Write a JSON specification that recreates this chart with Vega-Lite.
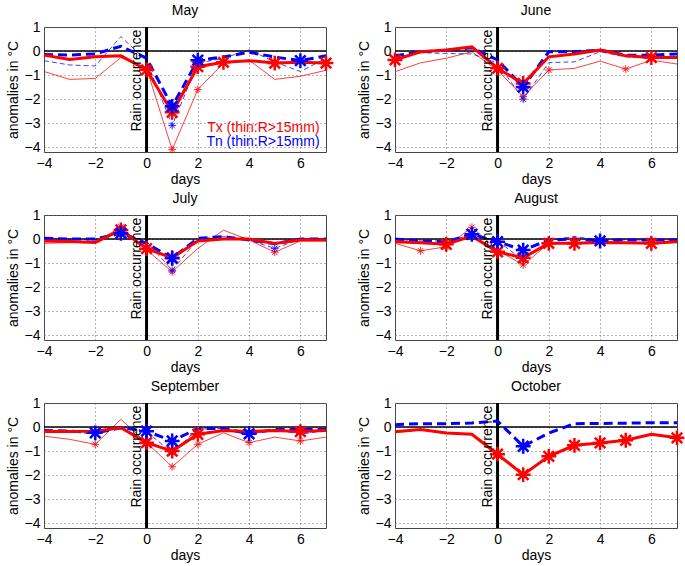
{
  "$schema": "https://vega.github.io/schema/vega-lite/v6.json",
  "background": "white",
  "padding": {"left": 5, "top": 3, "right": 5, "bottom": 3},
  "data": {"values": [
    {"m":"May","s":"A"},{"m":"June","s":"A"},{"m":"July","s":"A"},{"m":"August","s":"A"},{"m":"September","s":"A"},{"m":"October","s":"A"},
    {"m":"May","s":"Tx","d":-4,"v":-0.17},{"m":"May","s":"Tx","d":-3,"v":-0.35},{"m":"May","s":"Tx","d":-2,"v":-0.24},{"m":"May","s":"Tx","d":-1,"v":-0.2},{"m":"May","s":"Tx","d":0,"v":-0.78,"k":1},{"m":"May","s":"Tx","d":1,"v":-2.55,"k":1},{"m":"May","s":"Tx","d":2,"v":-0.65,"k":1},{"m":"May","s":"Tx","d":3,"v":-0.47,"k":1},{"m":"May","s":"Tx","d":4,"v":-0.4},{"m":"May","s":"Tx","d":5,"v":-0.5,"k":1},{"m":"May","s":"Tx","d":6,"v":-0.47},{"m":"May","s":"Tx","d":7,"v":-0.5,"k":1},
    {"m":"May","s":"Tn","d":-4,"v":-0.14},{"m":"May","s":"Tn","d":-3,"v":-0.17},{"m":"May","s":"Tn","d":-2,"v":-0.12},{"m":"May","s":"Tn","d":-1,"v":0.2},{"m":"May","s":"Tn","d":0,"v":-0.3},{"m":"May","s":"Tn","d":1,"v":-2.3,"k":1},{"m":"May","s":"Tn","d":2,"v":-0.38,"k":1},{"m":"May","s":"Tn","d":3,"v":-0.25},{"m":"May","s":"Tn","d":4,"v":-0.05},{"m":"May","s":"Tn","d":5,"v":-0.25},{"m":"May","s":"Tn","d":6,"v":-0.4,"k":1},{"m":"May","s":"Tn","d":7,"v":-0.2},
    {"m":"May","s":"Tx15","d":-4,"v":-0.85},{"m":"May","s":"Tx15","d":-3,"v":-1.18},{"m":"May","s":"Tx15","d":-2,"v":-1.14},{"m":"May","s":"Tx15","d":-1,"v":-0.27},{"m":"May","s":"Tx15","d":0,"v":-0.72},{"m":"May","s":"Tx15","d":1,"v":-4.1,"k":1},{"m":"May","s":"Tx15","d":2,"v":-1.6,"k":1},{"m":"May","s":"Tx15","d":3,"v":-0.5},{"m":"May","s":"Tx15","d":4,"v":-0.38},{"m":"May","s":"Tx15","d":5,"v":-1.18},{"m":"May","s":"Tx15","d":6,"v":-1.05},{"m":"May","s":"Tx15","d":7,"v":-0.8},
    {"m":"May","s":"Tn15","d":-4,"v":-0.4},{"m":"May","s":"Tn15","d":-3,"v":-0.58},{"m":"May","s":"Tn15","d":-2,"v":-0.62},{"m":"May","s":"Tn15","d":-1,"v":0.6},{"m":"May","s":"Tn15","d":0,"v":-0.4},{"m":"May","s":"Tn15","d":1,"v":-3.1,"k":1},{"m":"May","s":"Tn15","d":2,"v":-0.5},{"m":"May","s":"Tn15","d":3,"v":-0.3},{"m":"May","s":"Tn15","d":4,"v":0.05},{"m":"May","s":"Tn15","d":5,"v":-0.45},{"m":"May","s":"Tn15","d":6,"v":-0.85},{"m":"May","s":"Tn15","d":7,"v":-0.3},

    {"m":"June","s":"Tx","d":-4,"v":-0.37,"k":1},{"m":"June","s":"Tx","d":-3,"v":-0.03},{"m":"June","s":"Tx","d":-2,"v":0.04},{"m":"June","s":"Tx","d":-1,"v":0.18},{"m":"June","s":"Tx","d":0,"v":-0.72,"k":1},{"m":"June","s":"Tx","d":1,"v":-1.35,"k":1},{"m":"June","s":"Tx","d":2,"v":-0.24},{"m":"June","s":"Tx","d":3,"v":-0.12},{"m":"June","s":"Tx","d":4,"v":0.04},{"m":"June","s":"Tx","d":5,"v":-0.2},{"m":"June","s":"Tx","d":6,"v":-0.27,"k":1},{"m":"June","s":"Tx","d":7,"v":-0.27},
    {"m":"June","s":"Tn","d":-4,"v":-0.2},{"m":"June","s":"Tn","d":-3,"v":-0.03},{"m":"June","s":"Tn","d":-2,"v":0.03},{"m":"June","s":"Tn","d":-1,"v":0.14},{"m":"June","s":"Tn","d":0,"v":-0.37},{"m":"June","s":"Tn","d":1,"v":-1.5,"k":1},{"m":"June","s":"Tn","d":2,"v":-0.03},{"m":"June","s":"Tn","d":3,"v":-0.03},{"m":"June","s":"Tn","d":4,"v":0.04},{"m":"June","s":"Tn","d":5,"v":-0.17},{"m":"June","s":"Tn","d":6,"v":-0.17},{"m":"June","s":"Tn","d":7,"v":-0.12},
    {"m":"June","s":"Tx15","d":-4,"v":-0.86},{"m":"June","s":"Tx15","d":-3,"v":-0.49},{"m":"June","s":"Tx15","d":-2,"v":-0.3},{"m":"June","s":"Tx15","d":-1,"v":-0.03},{"m":"June","s":"Tx15","d":0,"v":-0.8},{"m":"June","s":"Tx15","d":1,"v":-1.9,"k":1},{"m":"June","s":"Tx15","d":2,"v":-0.79,"k":1},{"m":"June","s":"Tx15","d":3,"v":-0.72},{"m":"June","s":"Tx15","d":4,"v":-0.42},{"m":"June","s":"Tx15","d":5,"v":-0.75,"k":1},{"m":"June","s":"Tx15","d":6,"v":-0.38},{"m":"June","s":"Tx15","d":7,"v":-0.54},
    {"m":"June","s":"Tn15","d":-4,"v":-0.26},{"m":"June","s":"Tn15","d":-3,"v":-0.07},{"m":"June","s":"Tn15","d":-2,"v":-0.1},{"m":"June","s":"Tn15","d":-1,"v":-0.12},{"m":"June","s":"Tn15","d":0,"v":-0.5},{"m":"June","s":"Tn15","d":1,"v":-2.0,"k":1},{"m":"June","s":"Tn15","d":2,"v":-0.48},{"m":"June","s":"Tn15","d":3,"v":-0.45},{"m":"June","s":"Tn15","d":4,"v":-0.03},{"m":"June","s":"Tn15","d":5,"v":-0.24},{"m":"June","s":"Tn15","d":6,"v":-0.3},{"m":"June","s":"Tn15","d":7,"v":-0.24},

    {"m":"July","s":"Tx","d":-4,"v":-0.08},{"m":"July","s":"Tx","d":-3,"v":-0.1},{"m":"July","s":"Tx","d":-2,"v":-0.14},{"m":"July","s":"Tx","d":-1,"v":0.38,"k":1},{"m":"July","s":"Tx","d":0,"v":-0.4,"k":1},{"m":"July","s":"Tx","d":1,"v":-0.78,"k":1},{"m":"July","s":"Tx","d":2,"v":-0.08},{"m":"July","s":"Tx","d":3,"v":0},{"m":"July","s":"Tx","d":4,"v":0},{"m":"July","s":"Tx","d":5,"v":-0.18},{"m":"July","s":"Tx","d":6,"v":-0.04},{"m":"July","s":"Tx","d":7,"v":-0.04},
    {"m":"July","s":"Tn","d":-4,"v":0.03},{"m":"July","s":"Tn","d":-3,"v":0},{"m":"July","s":"Tn","d":-2,"v":0},{"m":"July","s":"Tn","d":-1,"v":0.24,"k":1},{"m":"July","s":"Tn","d":0,"v":-0.18},{"m":"July","s":"Tn","d":1,"v":-0.8,"k":1},{"m":"July","s":"Tn","d":2,"v":0.03},{"m":"July","s":"Tn","d":3,"v":0.1},{"m":"July","s":"Tn","d":4,"v":-0.04},{"m":"July","s":"Tn","d":5,"v":-0.2},{"m":"July","s":"Tn","d":6,"v":0},{"m":"July","s":"Tn","d":7,"v":0},
    {"m":"July","s":"Tx15","d":-4,"v":-0.18},{"m":"July","s":"Tx15","d":-3,"v":-0.15},{"m":"July","s":"Tx15","d":-2,"v":-0.14},{"m":"July","s":"Tx15","d":-1,"v":0.5,"k":1},{"m":"July","s":"Tx15","d":0,"v":-0.45},{"m":"July","s":"Tx15","d":1,"v":-1.36,"k":1},{"m":"July","s":"Tx15","d":2,"v":-0.39},{"m":"July","s":"Tx15","d":3,"v":0.37},{"m":"July","s":"Tx15","d":4,"v":-0.04},{"m":"July","s":"Tx15","d":5,"v":-0.55,"k":1},{"m":"July","s":"Tx15","d":6,"v":-0.08},{"m":"July","s":"Tx15","d":7,"v":-0.08},
    {"m":"July","s":"Tn15","d":-4,"v":0.05},{"m":"July","s":"Tn15","d":-3,"v":0},{"m":"July","s":"Tn15","d":-2,"v":-0.04},{"m":"July","s":"Tn15","d":-1,"v":0.3},{"m":"July","s":"Tn15","d":0,"v":-0.1},{"m":"July","s":"Tn15","d":1,"v":-1.3,"k":1},{"m":"July","s":"Tn15","d":2,"v":0},{"m":"July","s":"Tn15","d":3,"v":0.1},{"m":"July","s":"Tn15","d":4,"v":-0.04},{"m":"July","s":"Tn15","d":5,"v":-0.39,"k":1},{"m":"July","s":"Tn15","d":6,"v":0},{"m":"July","s":"Tn15","d":7,"v":0},

    {"m":"August","s":"Tx","d":-4,"v":-0.11},{"m":"August","s":"Tx","d":-3,"v":-0.15},{"m":"August","s":"Tx","d":-2,"v":-0.22,"k":1},{"m":"August","s":"Tx","d":-1,"v":0.12},{"m":"August","s":"Tx","d":0,"v":-0.53,"k":1},{"m":"August","s":"Tx","d":1,"v":-0.78,"k":1},{"m":"August","s":"Tx","d":2,"v":-0.18,"k":1},{"m":"August","s":"Tx","d":3,"v":-0.18,"k":1},{"m":"August","s":"Tx","d":4,"v":-0.14},{"m":"August","s":"Tx","d":5,"v":-0.15},{"m":"August","s":"Tx","d":6,"v":-0.18,"k":1},{"m":"August","s":"Tx","d":7,"v":-0.11},
    {"m":"August","s":"Tn","d":-4,"v":0},{"m":"August","s":"Tn","d":-3,"v":-0.08},{"m":"August","s":"Tn","d":-2,"v":-0.11},{"m":"August","s":"Tn","d":-1,"v":0.2,"k":1},{"m":"August","s":"Tn","d":0,"v":-0.11,"k":1},{"m":"August","s":"Tn","d":1,"v":-0.46,"k":1},{"m":"August","s":"Tn","d":2,"v":-0.04},{"m":"August","s":"Tn","d":3,"v":0},{"m":"August","s":"Tn","d":4,"v":-0.08,"k":1},{"m":"August","s":"Tn","d":5,"v":-0.04},{"m":"August","s":"Tn","d":6,"v":-0.04},{"m":"August","s":"Tn","d":7,"v":-0.04},
    {"m":"August","s":"Tx15","d":-4,"v":-0.18},{"m":"August","s":"Tx15","d":-3,"v":-0.49,"k":1},{"m":"August","s":"Tx15","d":-2,"v":-0.32,"k":1},{"m":"August","s":"Tx15","d":-1,"v":0.49,"k":1},{"m":"August","s":"Tx15","d":0,"v":-0.46},{"m":"August","s":"Tx15","d":1,"v":-1.08,"k":1},{"m":"August","s":"Tx15","d":2,"v":-0.18},{"m":"August","s":"Tx15","d":3,"v":-0.14},{"m":"August","s":"Tx15","d":4,"v":-0.14},{"m":"August","s":"Tx15","d":5,"v":-0.14},{"m":"August","s":"Tx15","d":6,"v":-0.18},{"m":"August","s":"Tx15","d":7,"v":-0.11},
    {"m":"August","s":"Tn15","d":-4,"v":0},{"m":"August","s":"Tn15","d":-3,"v":-0.08},{"m":"August","s":"Tn15","d":-2,"v":-0.08},{"m":"August","s":"Tn15","d":-1,"v":0.17},{"m":"August","s":"Tn15","d":0,"v":-0.08},{"m":"August","s":"Tn15","d":1,"v":-0.88,"k":1},{"m":"August","s":"Tn15","d":2,"v":-0.04},{"m":"August","s":"Tn15","d":3,"v":0.1},{"m":"August","s":"Tn15","d":4,"v":-0.04},{"m":"August","s":"Tn15","d":5,"v":-0.04},{"m":"August","s":"Tn15","d":6,"v":-0.04},{"m":"August","s":"Tn15","d":7,"v":-0.04},

    {"m":"September","s":"Tx","d":-4,"v":-0.19},{"m":"September","s":"Tx","d":-3,"v":-0.19},{"m":"September","s":"Tx","d":-2,"v":-0.17},{"m":"September","s":"Tx","d":-1,"v":-0.03},{"m":"September","s":"Tx","d":0,"v":-0.65,"k":1},{"m":"September","s":"Tx","d":1,"v":-1.0,"k":1},{"m":"September","s":"Tx","d":2,"v":-0.3,"k":1},{"m":"September","s":"Tx","d":3,"v":-0.14},{"m":"September","s":"Tx","d":4,"v":-0.19},{"m":"September","s":"Tx","d":5,"v":-0.14},{"m":"September","s":"Tx","d":6,"v":-0.19,"k":1},{"m":"September","s":"Tx","d":7,"v":-0.14},
    {"m":"September","s":"Tn","d":-4,"v":-0.14},{"m":"September","s":"Tn","d":-3,"v":-0.17},{"m":"September","s":"Tn","d":-2,"v":-0.24,"k":1},{"m":"September","s":"Tn","d":-1,"v":-0.03},{"m":"September","s":"Tn","d":0,"v":-0.17,"k":1},{"m":"September","s":"Tn","d":1,"v":-0.58,"k":1},{"m":"September","s":"Tn","d":2,"v":-0.06},{"m":"September","s":"Tn","d":3,"v":-0.06},{"m":"September","s":"Tn","d":4,"v":-0.28,"k":1},{"m":"September","s":"Tn","d":5,"v":-0.1},{"m":"September","s":"Tn","d":6,"v":-0.1},{"m":"September","s":"Tn","d":7,"v":-0.1},
    {"m":"September","s":"Tx15","d":-4,"v":-0.38},{"m":"September","s":"Tx15","d":-3,"v":-0.51},{"m":"September","s":"Tx15","d":-2,"v":-0.72,"k":1},{"m":"September","s":"Tx15","d":-1,"v":0.32},{"m":"September","s":"Tx15","d":0,"v":-0.65},{"m":"September","s":"Tx15","d":1,"v":-1.65,"k":1},{"m":"September","s":"Tx15","d":2,"v":-0.72,"k":1},{"m":"September","s":"Tx15","d":3,"v":-0.24},{"m":"September","s":"Tx15","d":4,"v":-0.65,"k":1},{"m":"September","s":"Tx15","d":5,"v":-0.42},{"m":"September","s":"Tx15","d":6,"v":-0.58,"k":1},{"m":"September","s":"Tx15","d":7,"v":-0.42},
    {"m":"September","s":"Tn15","d":-4,"v":-0.14},{"m":"September","s":"Tn15","d":-3,"v":-0.17},{"m":"September","s":"Tn15","d":-2,"v":-0.3},{"m":"September","s":"Tn15","d":-1,"v":0},{"m":"September","s":"Tn15","d":0,"v":-0.19},{"m":"September","s":"Tn15","d":1,"v":-1.07,"k":1},{"m":"September","s":"Tn15","d":2,"v":-0.08},{"m":"September","s":"Tn15","d":3,"v":-0.06},{"m":"September","s":"Tn15","d":4,"v":-0.3},{"m":"September","s":"Tn15","d":5,"v":-0.1},{"m":"September","s":"Tn15","d":6,"v":-0.3},{"m":"September","s":"Tn15","d":7,"v":-0.14},

    {"m":"October","s":"Tx","d":-4,"v":-0.2},{"m":"October","s":"Tx","d":-3,"v":-0.1},{"m":"October","s":"Tx","d":-2,"v":-0.25},{"m":"October","s":"Tx","d":-1,"v":-0.3},{"m":"October","s":"Tx","d":0,"v":-1.13,"k":1},{"m":"October","s":"Tx","d":1,"v":-1.98,"k":1},{"m":"October","s":"Tx","d":2,"v":-1.22,"k":1},{"m":"October","s":"Tx","d":3,"v":-0.76,"k":1},{"m":"October","s":"Tx","d":4,"v":-0.66,"k":1},{"m":"October","s":"Tx","d":5,"v":-0.55,"k":1},{"m":"October","s":"Tx","d":6,"v":-0.3},{"m":"October","s":"Tx","d":7,"v":-0.45,"k":1},
    {"m":"October","s":"Tn","d":-4,"v":0.1},{"m":"October","s":"Tn","d":-3,"v":0.14},{"m":"October","s":"Tn","d":-2,"v":0.14},{"m":"October","s":"Tn","d":-1,"v":0.17},{"m":"October","s":"Tn","d":0,"v":0.25},{"m":"October","s":"Tn","d":1,"v":-0.8,"k":1},{"m":"October","s":"Tn","d":2,"v":-0.25},{"m":"October","s":"Tn","d":3,"v":0.14},{"m":"October","s":"Tn","d":4,"v":0.15},{"m":"October","s":"Tn","d":5,"v":0.16},{"m":"October","s":"Tn","d":6,"v":0.18},{"m":"October","s":"Tn","d":7,"v":0.18}
  ]},
  "facet": {
    "field": "m", "type": "nominal",
    "sort": ["May","June","July","August","September","October"],
    "header": {"title": null, "labelFont": "Liberation Sans", "labelFontSize": 14, "labelFontWeight": "normal", "labelColor": "#000", "labelPadding": 2}
  },
  "columns": 2,
  "spacing": {"row": 4, "column": 17},
  "resolve": {"axis": {"x": "independent", "y": "independent"}},
  "spec": {
    "width": 282,
    "height": 125,
    "layer": [
      {"transform": [{"filter": "datum.s == 'Tx15'"}], "mark": {"type": "line", "color": "#ff0000", "strokeWidth": 1, "opacity": 0.75},
       "encoding": {
        "x": {"field": "d", "type": "quantitative",
          "scale": {"domain": [-4, 7], "nice": false, "zero": false},
          "axis": {"title": "days", "titlePadding": 2}},
        "y": {"field": "v", "type": "quantitative",
          "scale": {"domain": [-4.2, 1], "nice": false, "zero": false},
          "axis": {"title": "anomalies in °C", "titlePadding": 4}}
       }},
      {"transform": [{"filter": "datum.s == 'A'"}], "mark": {"type": "rule", "color": "#000", "strokeWidth": 1.5},
       "encoding": {"y": {"datum": 0, "type": "quantitative"}}},
      {"transform": [{"filter": "datum.s == 'A'"}], "mark": {"type": "rule", "color": "#000", "strokeWidth": 3},
       "encoding": {"x": {"datum": 0, "type": "quantitative"}}},
      {"transform": [{"filter": "datum.s == 'Tn15'"}], "mark": {"type": "line", "color": "#0000ff", "strokeWidth": 1, "opacity": 0.75, "strokeDash": [5, 3]},
       "encoding": {"x": {"field": "d", "type": "quantitative"}, "y": {"field": "v", "type": "quantitative"}}},
      {"transform": [{"filter": "datum.s == 'Tn'"}], "mark": {"type": "line", "color": "#0000ff", "strokeWidth": 3, "strokeDash": [9, 5]},
       "encoding": {"x": {"field": "d", "type": "quantitative"}, "y": {"field": "v", "type": "quantitative"}}},
      {"transform": [{"filter": "datum.s == 'Tx'"}], "mark": {"type": "line", "color": "#ff0000", "strokeWidth": 3},
       "encoding": {"x": {"field": "d", "type": "quantitative"}, "y": {"field": "v", "type": "quantitative"}}},
      {"transform": [{"filter": "datum.s == 'A'"}],
       "mark": {"type": "text", "text": "Rain occurrence", "angle": 270, "align": "left", "baseline": "bottom", "dy": -3, "font": "Liberation Sans", "fontSize": 14, "color": "#000"},
       "encoding": {"x": {"datum": 0, "type": "quantitative"}, "y": {"datum": -3.35, "type": "quantitative"}}},
      {"transform": [{"filter": "(datum.s == 'Tx15' || datum.s == 'Tn15') && datum.k == 1"}],
       "mark": {"type": "point", "shape": "M0,-1L0,1M-1,0L1,0M-0.71,-0.71L0.71,0.71M-0.71,0.71L0.71,-0.71", "filled": false, "size": 60, "strokeWidth": 1, "opacity": 0.85},
       "encoding": {"x": {"field": "d", "type": "quantitative"}, "y": {"field": "v", "type": "quantitative"},
         "color": {"field": "s", "type": "nominal", "scale": {"domain": ["Tx15", "Tn15"], "range": ["#ff0000", "#0000ff"]}, "legend": null}}},
      {"transform": [{"filter": "datum.s == 'Tx' && datum.k == 1"}],
       "mark": {"type": "point", "shape": "M0,-1L0,1M-1,0L1,0M-0.71,-0.71L0.71,0.71M-0.71,0.71L0.71,-0.71", "filled": false, "size": 220, "strokeWidth": 2.5, "color": "#ff0000", "opacity": 1},
       "encoding": {"x": {"field": "d", "type": "quantitative"}, "y": {"field": "v", "type": "quantitative"}}},
      {"transform": [{"filter": "datum.s == 'Tn' && datum.k == 1"}],
       "mark": {"type": "point", "shape": "M0,-1L0,1M-1,0L1,0M-0.71,-0.71L0.71,0.71M-0.71,0.71L0.71,-0.71", "filled": false, "size": 220, "strokeWidth": 2.5, "color": "#0000ff", "opacity": 1},
       "encoding": {"x": {"field": "d", "type": "quantitative"}, "y": {"field": "v", "type": "quantitative"}}},
      {"transform": [{"filter": "datum.s == 'A' && datum.m == 'May'"}],
       "mark": {"type": "text", "text": "Tx (thin:R>15mm)", "align": "right", "baseline": "middle", "font": "Liberation Sans", "fontSize": 14, "color": "#ff0000"},
       "encoding": {"x": {"datum": 6.75, "type": "quantitative"}, "y": {"datum": -3.22, "type": "quantitative"}}},
      {"transform": [{"filter": "datum.s == 'A' && datum.m == 'May'"}],
       "mark": {"type": "text", "text": "Tn (thin:R>15mm)", "align": "right", "baseline": "middle", "font": "Liberation Sans", "fontSize": 14, "color": "#0000ff"},
       "encoding": {"x": {"datum": 6.75, "type": "quantitative"}, "y": {"datum": -3.8, "type": "quantitative"}}}
    ]
  },
  "config": {
    "font": "Liberation Sans",
    "view": {"stroke": "#444", "strokeWidth": 1},
    "axis": {"labelFont": "Liberation Sans", "labelFontSize": 14, "labelColor": "#000",
      "titleFont": "Liberation Sans", "titleFontSize": 14, "titleFontWeight": "normal", "titleColor": "#000",
      "domain": false, "ticks": false, "labelPadding": 4, "labelOverlap": false, "labelFlush": false,
      "grid": true, "gridDash": [1, 3], "gridColor": "#666", "gridOpacity": 1, "gridWidth": 1},
    "axisY": {"tickCount": 6},
    "axisX": {"tickCount": 6}
  }
}
